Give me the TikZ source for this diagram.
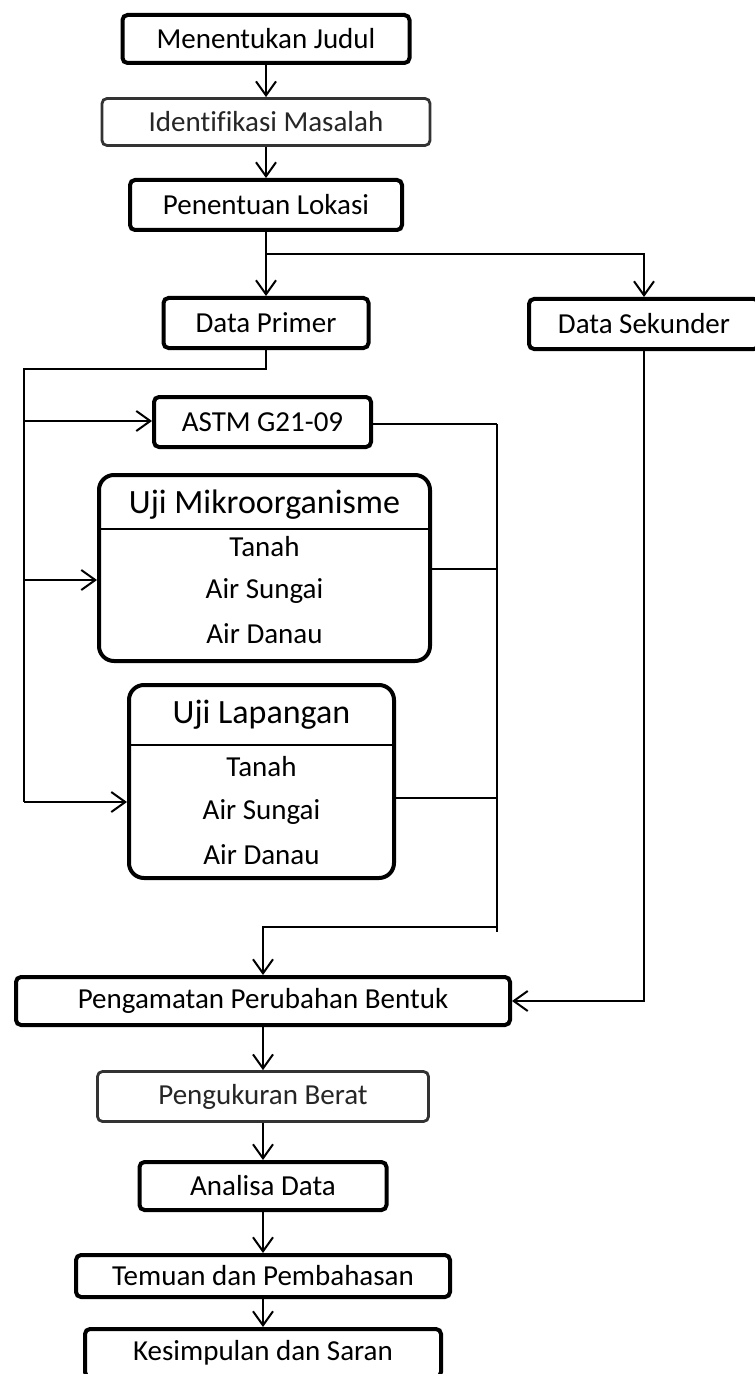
\documentclass[tikz,border=0pt]{standalone}
\usepackage{fontspec}
\setmainfont{Carlito}[Ligatures=NoCommon]
\usepackage{tikz}
\usetikzlibrary{arrows.meta}

\begin{document}
\begin{tikzpicture}[x=0.5pt,y=-0.5pt,
    >={Straight Barb[length=7pt,width=10pt]},
    kotak/.style={draw,line width=2pt,rounded corners=2.5pt,fill=white,inner sep=0pt,
        font=\fontsize{14.5}{16}\selectfont},
    kotaktipis/.style={kotak,line width=1.4pt,draw=black!80,text=black!85},
    kotakuji/.style={kotak,rounded corners=7.5pt},
    judul/.style={font=\fontsize{17}{19}\selectfont},
    isi/.style={font=\fontsize{14.5}{16}\selectfont},
    garis/.style={line width=1pt},
    panah/.style={garis,->}]
    \useasboundingbox (0,0) rectangle (754,1374);
    % alur atas
    \node[kotak,minimum width=143.5pt,minimum height=24pt] (judul) at (266,39) {Menentukan Judul};
    \node[kotaktipis,minimum width=164pt,minimum height=23.5pt] (identifikasi) at (266,122) {Identifikasi Masalah};
    \node[kotak,minimum width=136pt,minimum height=25pt] (lokasi) at (266,205) {Penentuan Lokasi};
    \node[kotak,minimum width=102.5pt,minimum height=25pt] (primer) at (266,323) {Data Primer};
    \node[kotak,minimum width=115pt,minimum height=25pt] (sekunder) at (644,324) {Data Sekunder};
    \node[kotak,minimum width=108.5pt,minimum height=25pt] (astm) at (262.5,422) {ASTM G21-09};
    % kotak uji
    \node[kotakuji,minimum width=165.5pt,minimum height=93pt] (mikro) at (264.5,568) {};
    \node[judul] (mikroJudul) at (264.5,505) {Uji Mikroorganisme};
    \draw[garis] (mikro.west |- 0,529) -- (mikro.east |- 0,529);
    \foreach \t/\yy [count=\i] in {Tanah/547,Air Sungai/591,Air Danau/634}
        \node[isi] (mikro\i) at (264.5,\yy) {\t};
    \node[kotakuji,minimum width=132.5pt,minimum height=96.5pt] (lapangan) at (261.5,781.5) {};
    \node[judul] (lapanganJudul) at (261.5,715) {Uji Lapangan};
    \draw[garis] (lapangan.west |- 0,745) -- (lapangan.east |- 0,745);
    \foreach \t/\yy [count=\i] in {Tanah/767,Air Sungai/812,Air Danau/855}
        \node[isi] (lapangan\i) at (261.5,\yy) {\t};
    % alur bawah
    \node[kotak,minimum width=247pt,minimum height=24pt] (pengamatan) at (263,1001) {Pengamatan Perubahan Bentuk};
    \node[kotaktipis,minimum width=165.5pt,minimum height=25pt] (pengukuran) at (263,1096.5) {Pengukuran Berat};
    \node[kotak,minimum width=123.5pt,minimum height=24pt] (analisa) at (263,1186) {Analisa Data};
    \node[kotak,minimum width=187pt,minimum height=21pt] (temuan) at (263,1276) {Temuan dan Pembahasan};
    \node[kotak,minimum width=178pt,minimum height=24pt] (kesimpulan) at (263,1353) {Kesimpulan dan Saran};
    % panah
    \draw[panah] (judul) -- (identifikasi);
    \draw[panah] (identifikasi) -- (lokasi);
    \draw[panah] (lokasi) -- (primer);
    \coordinate (cabang) at (266,254);
    \draw[panah] (cabang) -| (sekunder.north);
    \coordinate (kiriA) at (24,369);
    \coordinate (kiriB) at (24,802);
    \draw[garis] (primer.south) |- (kiriA) -- (kiriB);
    \foreach \n/\yy in {astm/421,mikro/580,lapangan/802}{
        \coordinate (k\n) at (24,\yy);
        \draw[panah] (k\n) -- (\n.west |- k\n);
    }
    \coordinate (kananA) at (497,424);
    \coordinate (kananB) at (497,932);
    \coordinate (gabung) at (497,927);
    \foreach \n/\yy in {astm/424,mikro/569,lapangan/798}{
        \coordinate (r\n) at (497,\yy);
        \draw[garis] (\n.east |- r\n) -- (r\n);
    }
    \draw[garis] (kananA) -- (kananB);
    \draw[panah] (gabung) -| (pengamatan.north);
    \draw[panah] (sekunder.south) |- (pengamatan.east);
    \foreach \a/\b in {pengamatan/pengukuran,pengukuran/analisa,analisa/temuan,temuan/kesimpulan}
        \draw[panah] (\a) -- (\b);
\end{tikzpicture}
\end{document}
